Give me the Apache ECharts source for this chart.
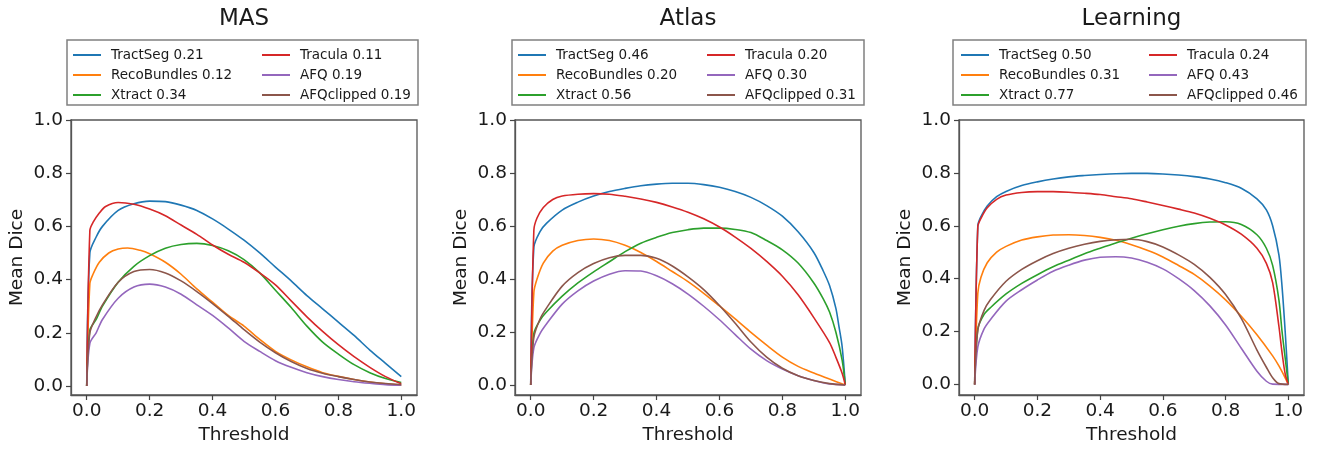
<!DOCTYPE html>
<html>
<head>
<meta charset="utf-8">
<script src="https://cdn.jsdelivr.net/npm/echarts@6/dist/echarts.min.js"></script>
<style>
  html, body { margin: 0; padding: 0; background: #fff; }
  #chart { width: 1324px; height: 451px; }
</style>
</head>
<body>
<div id="chart"></div>
<script>
  // methods and legend scores
  var methods = ['TractSeg', 'RecoBundles', 'Xtract', 'Tracula', 'AFQ', 'AFQclipped'];
  var masScores = [0.21, 0.12, 0.34, 0.11, 0.19, 0.19];
  var atlasScores = [0.46, 0.20, 0.56, 0.20, 0.30, 0.31];
  var learningScores = [0.50, 0.31, 0.77, 0.24, 0.43, 0.46];
  var xTicks = [0, 0.2, 0.4, 0.6, 0.8, 1.0];
  var yTicks = [0, 0.2, 0.4, 0.6, 0.8, 1.0];

  // MAS  [threshold, mean dice]
  var masTractSeg = [[0,0],[0.01,0.50],[0.03,0.56],[0.05,0.60],[0.1,0.66],[0.15,0.685],[0.2,0.695],[0.25,0.693],[0.3,0.68],[0.35,0.66],[0.4,0.628],[0.45,0.59],[0.5,0.548],[0.55,0.50],[0.6,0.447],[0.65,0.395],[0.7,0.34],[0.75,0.29],[0.8,0.24],[0.85,0.19],[0.9,0.135],[0.95,0.085],[1.0,0.035]];
  var masRecoBundles = [[0,0],[0.01,0.385],[0.02,0.42],[0.04,0.465],[0.07,0.50],[0.1,0.515],[0.13,0.519],[0.17,0.51],[0.2,0.497],[0.25,0.465],[0.3,0.42],[0.35,0.365],[0.4,0.315],[0.45,0.265],[0.5,0.225],[0.55,0.175],[0.6,0.13],[0.65,0.098],[0.7,0.072],[0.75,0.05],[0.8,0.036],[0.85,0.024],[0.9,0.015],[0.95,0.008],[1.0,0.003]];
  var masXtract = [[0,0],[0.01,0.21],[0.03,0.25],[0.05,0.30],[0.1,0.39],[0.15,0.45],[0.2,0.49],[0.25,0.518],[0.3,0.532],[0.35,0.536],[0.4,0.528],[0.45,0.508],[0.5,0.475],[0.55,0.425],[0.6,0.36],[0.65,0.295],[0.7,0.225],[0.75,0.165],[0.8,0.12],[0.85,0.08],[0.9,0.05],[0.95,0.028],[1.0,0.013]];
  var masTracula = [[0,0],[0.01,0.585],[0.02,0.615],[0.04,0.65],[0.06,0.675],[0.1,0.69],[0.15,0.683],[0.2,0.665],[0.25,0.64],[0.3,0.605],[0.35,0.57],[0.4,0.53],[0.45,0.495],[0.5,0.465],[0.55,0.425],[0.6,0.38],[0.65,0.32],[0.7,0.26],[0.75,0.205],[0.8,0.155],[0.85,0.11],[0.9,0.07],[0.95,0.035],[1.0,0.008]];
  var masAFQ = [[0,0],[0.01,0.16],[0.03,0.20],[0.05,0.25],[0.1,0.33],[0.15,0.372],[0.2,0.383],[0.25,0.372],[0.3,0.345],[0.35,0.305],[0.4,0.265],[0.45,0.218],[0.5,0.168],[0.55,0.13],[0.6,0.095],[0.65,0.07],[0.7,0.05],[0.75,0.035],[0.8,0.024],[0.85,0.016],[0.9,0.01],[0.95,0.005],[1.0,0.003]];
  var masAFQclipped = [[0,0],[0.01,0.20],[0.03,0.26],[0.05,0.305],[0.1,0.39],[0.15,0.43],[0.2,0.438],[0.25,0.425],[0.3,0.395],[0.35,0.355],[0.4,0.31],[0.45,0.262],[0.5,0.212],[0.55,0.165],[0.6,0.125],[0.65,0.092],[0.7,0.066],[0.75,0.048],[0.8,0.035],[0.85,0.024],[0.9,0.015],[0.95,0.009],[1.0,0.005]];

  // Atlas
  var atlasTractSeg = [[0,0],[0.01,0.52],[0.03,0.58],[0.05,0.61],[0.1,0.66],[0.15,0.69],[0.2,0.713],[0.25,0.73],[0.3,0.742],[0.35,0.752],[0.4,0.758],[0.45,0.761],[0.5,0.761],[0.55,0.756],[0.6,0.746],[0.65,0.73],[0.7,0.708],[0.75,0.677],[0.8,0.637],[0.85,0.578],[0.9,0.50],[0.93,0.43],[0.95,0.375],[0.97,0.29],[0.98,0.22],[0.99,0.145],[1.0,0]];
  var atlasRecoBundles = [[0,0],[0.01,0.35],[0.02,0.40],[0.04,0.46],[0.07,0.505],[0.1,0.527],[0.15,0.545],[0.2,0.551],[0.25,0.545],[0.3,0.527],[0.35,0.50],[0.4,0.466],[0.45,0.428],[0.5,0.39],[0.55,0.346],[0.6,0.298],[0.65,0.249],[0.7,0.198],[0.75,0.15],[0.8,0.105],[0.85,0.07],[0.9,0.045],[0.95,0.022],[1.0,0]];
  var atlasXtract = [[0,0],[0.01,0.195],[0.03,0.245],[0.05,0.275],[0.1,0.335],[0.15,0.385],[0.2,0.427],[0.25,0.465],[0.3,0.503],[0.35,0.535],[0.4,0.557],[0.45,0.575],[0.5,0.586],[0.55,0.592],[0.6,0.592],[0.65,0.587],[0.7,0.575],[0.75,0.545],[0.8,0.51],[0.85,0.46],[0.9,0.385],[0.93,0.325],[0.95,0.275],[0.97,0.20],[0.99,0.094],[1.0,0]];
  var atlasTracula = [[0,0],[0.01,0.585],[0.02,0.63],[0.04,0.67],[0.07,0.70],[0.1,0.713],[0.15,0.72],[0.2,0.722],[0.25,0.72],[0.3,0.712],[0.35,0.702],[0.4,0.689],[0.45,0.672],[0.5,0.652],[0.55,0.627],[0.6,0.596],[0.65,0.558],[0.7,0.515],[0.75,0.466],[0.8,0.41],[0.85,0.34],[0.9,0.254],[0.95,0.16],[0.97,0.105],[0.99,0.044],[1.0,0]];
  var atlasAFQ = [[0,0],[0.01,0.14],[0.03,0.195],[0.05,0.23],[0.1,0.305],[0.15,0.355],[0.2,0.392],[0.25,0.418],[0.3,0.431],[0.35,0.43],[0.4,0.412],[0.45,0.382],[0.5,0.343],[0.55,0.297],[0.6,0.246],[0.65,0.19],[0.7,0.135],[0.75,0.092],[0.8,0.06],[0.85,0.035],[0.9,0.017],[0.95,0.004],[1.0,0]];
  var atlasAFQclipped = [[0,0],[0.01,0.18],[0.03,0.25],[0.05,0.29],[0.1,0.373],[0.15,0.424],[0.2,0.458],[0.25,0.48],[0.3,0.489],[0.35,0.489],[0.4,0.478],[0.45,0.449],[0.5,0.408],[0.55,0.36],[0.6,0.30],[0.65,0.233],[0.7,0.162],[0.75,0.105],[0.8,0.063],[0.85,0.035],[0.9,0.017],[0.95,0.005],[1.0,0]];

  // Learning
  var learningTractSeg = [[0,0],[0.01,0.60],[0.02,0.635],[0.04,0.675],[0.07,0.71],[0.1,0.73],[0.15,0.752],[0.2,0.766],[0.25,0.777],[0.3,0.785],[0.35,0.79],[0.4,0.794],[0.45,0.797],[0.5,0.798],[0.55,0.798],[0.6,0.796],[0.65,0.792],[0.7,0.786],[0.75,0.777],[0.8,0.763],[0.85,0.742],[0.9,0.702],[0.93,0.66],[0.95,0.60],[0.97,0.49],[0.98,0.37],[0.99,0.20],[1.0,0]];
  var learningRecoBundles = [[0,0],[0.01,0.345],[0.02,0.405],[0.04,0.46],[0.07,0.50],[0.1,0.522],[0.15,0.546],[0.2,0.558],[0.25,0.565],[0.3,0.566],[0.35,0.563],[0.4,0.556],[0.45,0.545],[0.5,0.528],[0.55,0.507],[0.6,0.482],[0.65,0.45],[0.7,0.416],[0.75,0.372],[0.8,0.32],[0.85,0.258],[0.9,0.188],[0.95,0.108],[0.97,0.07],[0.99,0.025],[1.0,0]];
  var learningXtract = [[0,0],[0.01,0.21],[0.03,0.265],[0.05,0.29],[0.1,0.342],[0.15,0.382],[0.2,0.415],[0.25,0.445],[0.3,0.47],[0.35,0.494],[0.4,0.515],[0.45,0.535],[0.5,0.553],[0.55,0.57],[0.6,0.585],[0.65,0.598],[0.7,0.608],[0.75,0.614],[0.8,0.615],[0.85,0.605],[0.9,0.566],[0.93,0.515],[0.95,0.45],[0.97,0.32],[0.98,0.20],[0.99,0.10],[1.0,0]];
  var learningTracula = [[0,0],[0.01,0.596],[0.02,0.628],[0.04,0.668],[0.07,0.70],[0.1,0.716],[0.15,0.726],[0.2,0.729],[0.25,0.729],[0.3,0.727],[0.35,0.723],[0.4,0.718],[0.45,0.71],[0.5,0.702],[0.55,0.69],[0.6,0.677],[0.65,0.663],[0.7,0.648],[0.75,0.628],[0.8,0.603],[0.85,0.568],[0.9,0.515],[0.93,0.458],[0.95,0.385],[0.97,0.22],[0.98,0.12],[0.99,0.04],[1.0,0]];
  var learningAFQ = [[0,0],[0.01,0.142],[0.03,0.21],[0.05,0.245],[0.1,0.315],[0.15,0.358],[0.2,0.395],[0.25,0.428],[0.3,0.451],[0.35,0.47],[0.4,0.481],[0.45,0.483],[0.5,0.478],[0.55,0.462],[0.6,0.437],[0.65,0.40],[0.7,0.355],[0.75,0.297],[0.8,0.225],[0.85,0.137],[0.9,0.05],[0.93,0.012],[0.95,0.001],[1.0,0]];
  var learningAFQclipped = [[0,0],[0.01,0.205],[0.03,0.28],[0.05,0.32],[0.1,0.39],[0.15,0.435],[0.2,0.468],[0.25,0.495],[0.3,0.515],[0.35,0.53],[0.4,0.541],[0.45,0.547],[0.5,0.549],[0.55,0.54],[0.6,0.52],[0.65,0.49],[0.7,0.454],[0.75,0.405],[0.8,0.34],[0.85,0.25],[0.9,0.13],[0.93,0.065],[0.95,0.025],[0.97,0.003],[1.0,0]];

  var colors = ['#1f77b4', '#ff7f0e', '#2ca02c', '#d62728', '#9467bd', '#8c564b'];
  var font = 'DejaVu Sans';
  var ink = '#1a1a1a';

  var panels = [
    { title: 'MAS', left: 71, width: 346, ymin: -0.034, scores: masScores, legendX: [73, 262], box: [67, 418],
      data: [masTractSeg, masRecoBundles, masXtract, masTracula, masAFQ, masAFQclipped] },
    { title: 'Atlas', left: 515, width: 346, ymin: -0.038, scores: atlasScores, legendX: [518, 707], box: [512, 864],
      data: [atlasTractSeg, atlasRecoBundles, atlasXtract, atlasTracula, atlasAFQ, atlasAFQclipped] },
    { title: 'Learning', left: 959, width: 345, ymin: -0.040, scores: learningScores, legendX: [961, 1149], box: [953, 1306],
      data: [learningTractSeg, learningRecoBundles, learningXtract, learningTracula, learningAFQ, learningAFQclipped] }
  ];

  var chart = echarts.init(document.getElementById('chart'));
  var grid = [], xAxis = [], yAxis = [], series = [], legend = [], title = [], boxes = [];

  panels.forEach(function (p, i) {
    var names = methods.map(function (m, k) { return m + ' ' + p.scores[k].toFixed(2); });
    grid.push({ left: p.left, top: 120, width: p.width, height: 275, show: true,
      borderColor: '#555', borderWidth: 1.3 });
    title.push({ text: p.title, left: p.left + p.width / 2, top: 8, textAlign: 'center', padding: 0,
      textStyle: { fontSize: 23, fontWeight: 'normal', fontFamily: font, color: ink } });
    xAxis.push({
      type: 'value', gridIndex: i, min: -0.05, max: 1.05,
      name: 'Threshold', nameLocation: 'middle', nameGap: 29,
      nameTextStyle: { fontSize: 18.5, fontFamily: font, color: ink },
      axisLine: { show: true, onZero: false, lineStyle: { color: '#555', width: 1.3 } },
      axisTick: { show: true, length: 5, customValues: xTicks, lineStyle: { color: '#444', width: 1.2 } },
      axisLabel: { customValues: xTicks, margin: 7, fontSize: 18.5, fontFamily: font, color: ink,
        formatter: function (v) { return v.toFixed(1); } },
      splitLine: { show: false }
    });
    yAxis.push({
      type: 'value', gridIndex: i, min: p.ymin, max: 1.0,
      name: 'Mean Dice', nameLocation: 'middle', nameGap: 44, nameRotate: 90,
      nameTextStyle: { fontSize: 18.5, fontFamily: font, color: ink },
      axisLine: { show: true, onZero: false, lineStyle: { color: '#555', width: 1.3 } },
      axisTick: { show: true, length: 5, customValues: yTicks, lineStyle: { color: '#444', width: 1.2 } },
      axisLabel: { customValues: yTicks, margin: 8, fontSize: 18.5, fontFamily: font, color: ink,
        formatter: function (v) { return v.toFixed(1); } },
      splitLine: { show: false }
    });
    p.data.forEach(function (d, k) {
      series.push({
        name: names[k], type: 'line', xAxisIndex: i, yAxisIndex: i, data: d,
        symbol: 'none', showSymbol: false, smooth: 0.3,
        lineStyle: { color: colors[k], width: 1.6 }, itemStyle: { color: colors[k] }
      });
    });
    [0, 1].forEach(function (c) {
      legend.push({
        data: names.slice(c * 3, c * 3 + 3), orient: 'vertical', left: p.legendX[c], top: 48,
        padding: 0, icon: 'rect', itemWidth: 28, itemHeight: 2, itemGap: 6, selectedMode: false,
        textStyle: { fontSize: 13.5, fontFamily: font, color: ink, lineHeight: 14, padding: [0, 0, 0, 5] }
      });
    });
    boxes.push({ type: 'rect', shape: { x: p.box[0], y: 40, width: p.box[1] - p.box[0], height: 65 },
      style: { fill: 'none', stroke: '#808080', lineWidth: 1.5 } });
  });

  chart.setOption({
    animation: false,
    backgroundColor: '#fff',
    title: title,
    grid: grid,
    xAxis: xAxis,
    yAxis: yAxis,
    legend: legend,
    graphic: { elements: boxes },
    series: series
  });
</script>
</body>
</html>
